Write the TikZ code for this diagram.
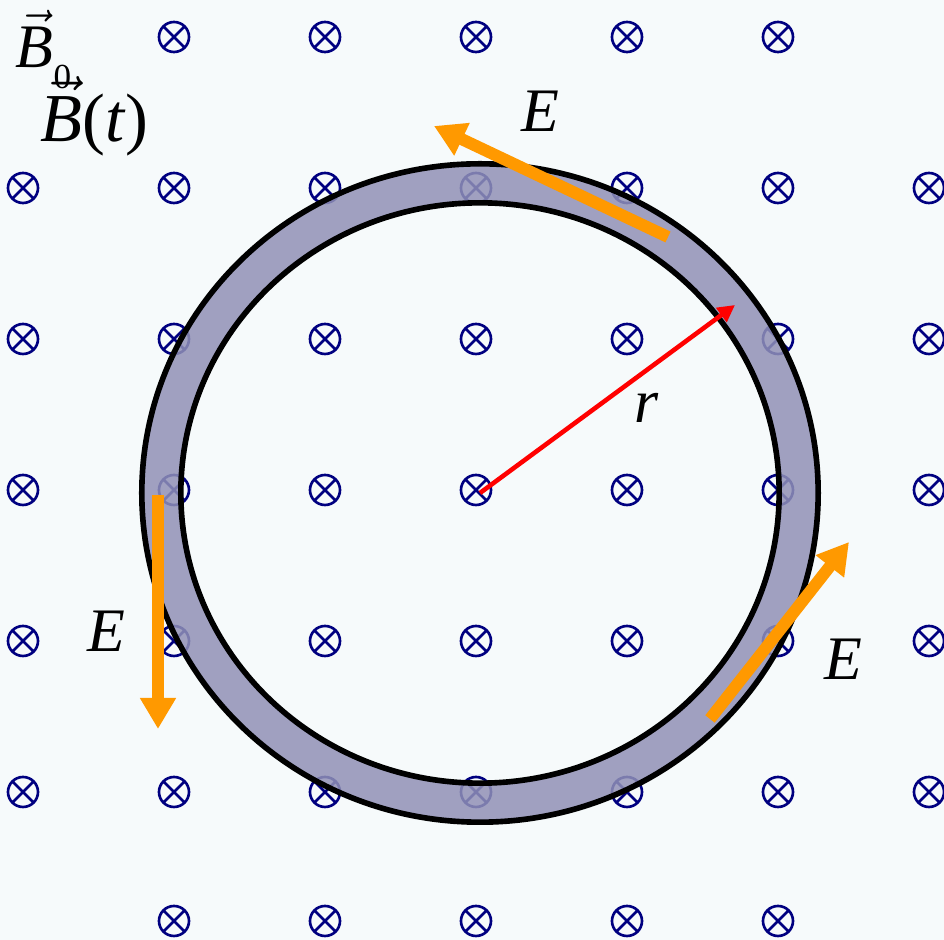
\documentclass[tikz,border=0pt]{standalone}
\usepackage{fontspec}
\setmainfont{Liberation Serif}
\usepackage{tikz}
\usetikzlibrary{arrows.meta}
\definecolor{FieldBlue}{RGB}{0,0,128}
\definecolor{RingGray}{RGB}{145,145,182}
\definecolor{EOrange}{RGB}{255,153,0}
\definecolor{PaperColor}{RGB}{246,250,251}

\begin{document}
\begin{tikzpicture}[x=0.01cm,y=-0.01cm,
    bsym/.style={FieldBlue, line width=0.75pt},
    efield/.style={EOrange, line width=3.4pt, -{Triangle[length=0.31cm,width=0.34cm]}},
    lab/.style={font=\fontsize{17.6}{20}\selectfont, inner sep=0pt, anchor=base}]
        \fill[PaperColor] (0,0) rectangle (944,940);
        \useasboundingbox (0,0) rectangle (944,940);
        % field into the page
        \foreach \y in {188,339,490,641,792}
          \foreach \x in {23,174,...,929}
            \draw[bsym] (\x,\y) circle[radius=0.15cm] (\x,\y) ++(-10.6,-10.6) -- ++(21.2,21.2) (\x,\y) ++(-10.6,10.6) -- ++(21.2,-21.2);
        \foreach \y in {37,921}
          \foreach \x in {174,325,...,778}
            \draw[bsym] (\x,\y) circle[radius=0.15cm] (\x,\y) ++(-10.6,-10.6) -- ++(21.2,21.2) (\x,\y) ++(-10.6,10.6) -- ++(21.2,-21.2);
        % ring
        \coordinate (O) at (480,493);
        \fill[RingGray, fill opacity=0.85, even odd rule] (O) ellipse[x radius=3.38cm, y radius=3.29cm] (O) ellipse[x radius=2.99cm, y radius=2.90cm];
        \draw[line width=1.6pt] (O) ellipse[x radius=3.38cm, y radius=3.29cm] (O) ellipse[x radius=2.99cm, y radius=2.90cm];
        % radius
        \coordinate (rtip) at (735,305);
        \draw[red, line width=1.3pt, -{Triangle[length=0.17cm,width=0.17cm]}] (O) -- (rtip);
        \node[lab] (rlab) at (647,423) {\textit{r}};
        % induced field
        \coordinate (E1a) at (668,237); \coordinate (E1b) at (434,126);
        \coordinate (E2a) at (158,495); \coordinate (E2b) at (158,729);
        \coordinate (E3a) at (710,719); \coordinate (E3b) at (849,542);
        \draw[efield] (E1a) -- (E1b);
        \draw[efield] (E2a) -- (E2b);
        \draw[efield] (E3a) -- (E3b);
        \node[lab] (Etop) at (540,132) {\textit{E}};
        \node[lab] (Eleft) at (106,652) {\textit{E}};
        \node[lab] (Eright) at (843,680) {\textit{E}};
        % legend
        \node[lab, anchor=base west] (Bzero) at (15,68) {$\vec{\textit{B}}$\raisebox{-0.33em}{\fontsize{10}{10}\selectfont 0}};
        \node[lab, anchor=base west, font=\fontsize{19.5}{22}\selectfont] (Bt) at (40,142) {$\vec{\textit{B}}$(\textit{t})};
\end{tikzpicture}
\end{document}
